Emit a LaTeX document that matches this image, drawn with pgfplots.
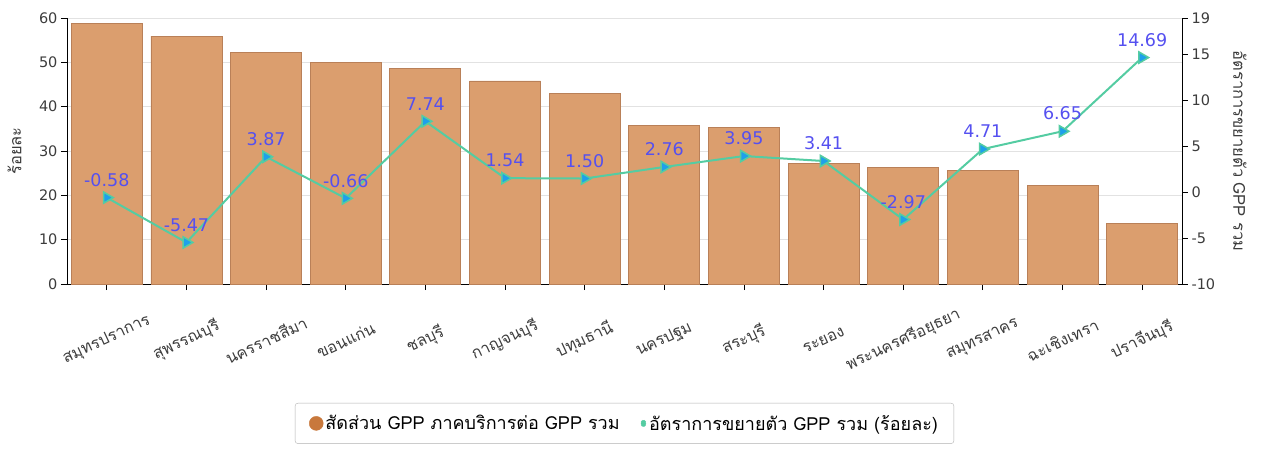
\documentclass[border=0pt]{standalone}
\usepackage{fontspec}
\usepackage{pgfplots}
\pgfplotsset{compat=1.18}
\setmainfont{DejaVu Sans}
\newfontfamily\thaifont[Script=Thai]{Loma}
\definecolor{barfill}{RGB}{219,158,110}
\definecolor{baredge}{RGB}{185,128,88}
\definecolor{linec}{RGB}{84,204,162}
\definecolor{markc}{RGB}{30,160,235}
\definecolor{labc}{RGB}{85,80,240}
\definecolor{gridc}{RGB}{226,226,226}
\definecolor{legdot}{RGB}{200,120,60}
\definecolor{txtc}{RGB}{60,60,60}
\begin{document}
\begin{tikzpicture}
\begin{axis}[name=ax,
  scale only axis, width=1115pt, height=266pt,
  xmin=-0.5, xmax=13.5, ymin=0, ymax=60,
  ytick={0,10,...,60},
  axis y line*=left, axis x line*=bottom,
  axis line style={black, line width=0.8pt},
  tick align=outside, major tick length=6pt,
  tick style={black, line width=0.8pt},
  ymajorgrids, grid style={gridc, line width=0.8pt},
  xtick={0,...,13},
  xticklabels={สมุทรปราการ,สุพรรณบุรี,นครราชสีมา,ขอนแก่น,ชลบุรี,กาญจนบุรี,ปทุมธานี,นครปฐม,สระบุรี,ระยอง,พระนครศรีอยุธยา,สมุทรสาคร,ฉะเชิงเทรา,ปราจีนบุรี},
  xticklabel style={yshift=-50pt, rotate=25, anchor=center, font=\thaifont\fontsize{16}{16}\selectfont, text=txtc},
  yticklabel style={font=\fontsize{14.5}{14.5}\selectfont, text=txtc},
  /pgf/number format/assume math mode=true,
  ylabel={\thaifont ร้อยละ},
  ylabel style={font=\fontsize{16.5}{16.5}\selectfont, text=txtc, at={(axis description cs:-0.047,0.5)}, anchor=center, rotate=0},
  ybar, bar width=71pt,
]
\addplot[fill=barfill, draw=baredge, line width=0.8pt] coordinates {
(0,58.8) (1,55.9) (2,52.2) (3,49.9) (4,48.7) (5,45.8) (6,42.9)
(7,35.7) (8,35.4) (9,27.1) (10,26.3) (11,25.7) (12,22.3) (13,13.6)};
\end{axis}
\begin{axis}[
  scale only axis, width=1115pt, height=266pt,
  xmin=-0.5, xmax=13.5, ymin=-10, ymax=19,
  ytick={-10,-5,0,5,10,15,19},
  axis y line*=right, axis x line=none,
  axis line style={black, line width=0.8pt},
  tick align=outside, major tick length=6pt,
  tick style={black, line width=0.8pt},
  yticklabel style={font=\fontsize{14.5}{14.5}\selectfont, text=txtc},
  /pgf/number format/assume math mode=true,
  ylabel={\thaifont อัตราการขยายตัว GPP รวม},
  ylabel style={font=\fontsize{16.5}{16.5}\selectfont, text=txtc, at={(axis description cs:1.052,0.5)}, anchor=center, rotate=180},
  legend style={at={(0.5,-0.447)}, anchor=north, draw=gray!60, rounded corners=3pt,
    font=\thaifont\fontsize{18}{18}\selectfont, text=black, inner xsep=14pt, inner ysep=10pt,
    /tikz/every even column/.append style={column sep=18pt}},
  legend columns=2,
]
\addlegendimage{legend image code/.code={\fill[legdot] (0.45em,0) circle (7pt);}}
\addlegendentry{สัดส่วน GPP ภาคบริการต่อ GPP รวม}
\addlegendimage{legend image code/.code={\fill[linec] (0.6em,0) +(0,4.5pt) -- +(3.5pt,0) -- +(0,-4.5pt) -- +(-3.5pt,0) -- cycle;}}
\addlegendentry{อัตราการขยายตัว GPP รวม (ร้อยละ)}
\addplot[linec, line width=2pt, mark=triangle*, mark size=6.5pt,
  mark options={rotate=-90, fill=markc, draw=linec, line width=1.5pt},
  nodes near coords, point meta=y,
  every node near coord/.append style={font=\fontsize{17.5}{17.5}\selectfont, text=labc, anchor=south, yshift=7pt,
    /pgf/number format/.cd, fixed, fixed zerofill, precision=2, assume math mode=true},
  forget plot] coordinates {
(0,-0.58) (1,-5.47) (2,3.87) (3,-0.66) (4,7.74) (5,1.54) (6,1.50)
(7,2.76) (8,3.95) (9,3.41) (10,-2.97) (11,4.71) (12,6.65) (13,14.69)};
\end{axis}
\pgfresetboundingbox
\path (ax.south west) ++(-67pt,-167pt) rectangle ++(1261pt,451pt);
\end{tikzpicture}
\end{document}
